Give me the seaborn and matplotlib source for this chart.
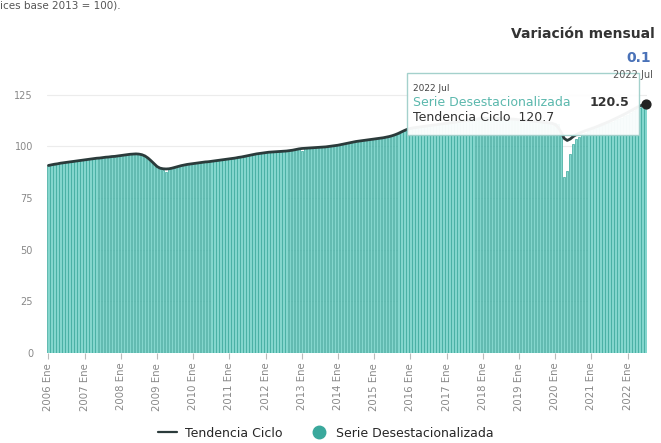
import numpy as np
import pandas as pd
import seaborn as sns
import matplotlib.pyplot as plt
from matplotlib.lines import Line2D
from matplotlib.patches import Rectangle

# Serie desestacionalizada (barras), mensual 2006 Ene - 2022 Jul
serie = [
    90.5, 91.3, 91.2, 91.8, 92.0, 92.0, 92.4, 92.6, 92.5, 93.0, 93.2, 93.2,   # 2006
    93.4, 93.9, 93.7, 94.2, 94.3, 94.3, 94.8, 94.7, 95.0, 95.2, 95.1, 95.5,   # 2007
    95.5, 95.9, 95.8, 96.4, 96.3, 96.6, 96.2, 96.1, 95.2, 94.6, 92.8, 91.5,   # 2008
    90.0, 89.3, 88.6, 87.6, 88.9, 89.6, 89.8, 90.4, 90.6, 91.1, 91.2, 91.6,   # 2009
    91.6, 92.0, 92.1, 92.4, 92.4, 92.7, 92.8, 93.1, 93.1, 93.5, 93.6, 93.9,   # 2010
    94.0, 94.1, 94.5, 94.6, 95.0, 95.1, 95.6, 95.7, 96.2, 96.3, 96.7, 96.8,   # 2011
    97.1, 97.1, 97.4, 97.3, 97.6, 97.5, 97.8, 97.7, 98.1, 98.1, 98.6, 98.7,   # 2012
    97.6, 99.2, 99.1, 99.4, 99.3, 99.6, 99.5, 99.8, 99.7, 100.1, 100.1, 100.5,  # 2013
    100.5, 101.0, 101.1, 101.6, 101.7, 102.2, 102.3, 102.7, 102.7, 103.1, 103.1, 103.5,  # 2014
    103.5, 103.9, 103.9, 104.3, 104.4, 104.9, 105.1, 105.8, 106.2, 107.1, 107.6, 108.4,  # 2015
    108.6, 109.1, 109.1, 109.5, 109.5, 109.9, 109.9, 110.3, 110.3, 110.7, 110.7, 111.1,  # 2016
    111.1, 111.5, 111.5, 111.9, 111.9, 112.3, 112.3, 112.7, 112.7, 113.1, 113.1, 113.3,  # 2017
    113.5, 113.6, 113.6, 113.7, 113.6, 113.7, 113.5, 113.6, 113.4, 113.3, 113.2, 113.0,  # 2018
    112.9, 112.7, 112.6, 112.4, 112.3, 112.1, 112.0, 111.8, 111.7, 111.5, 111.5, 111.3,  # 2019
    111.2, 110.9, 106.0, 85.0, 88.0, 96.5, 101.0, 103.5, 104.5, 105.8, 106.5, 107.4,   # 2020
    108.5, 108.3, 109.6, 110.0, 110.6, 111.2, 111.5, 112.0, 112.6, 113.2, 113.9, 114.6,  # 2021
    115.4, 116.3, 117.0, 117.9, 118.7, 119.8, 120.5,                                     # 2022
]

# Tendencia-ciclo (línea)
tendencia = [
    90.8, 91.1, 91.4, 91.6, 91.9, 92.1, 92.3, 92.5, 92.7, 92.9, 93.1, 93.3,
    93.5, 93.7, 93.9, 94.1, 94.3, 94.4, 94.6, 94.8, 94.9, 95.1, 95.2, 95.4,
    95.6, 95.8, 96.0, 96.2, 96.3, 96.4, 96.3, 96.0, 95.4, 94.4, 93.1, 91.7,
    90.3, 89.5, 89.2, 89.1, 89.2, 89.5, 89.9, 90.3, 90.7, 91.0, 91.3, 91.5,
    91.7, 91.9, 92.1, 92.3, 92.5, 92.6, 92.8, 93.0, 93.2, 93.4, 93.6, 93.8,
    94.0, 94.2, 94.4, 94.7, 94.9, 95.2, 95.5, 95.8, 96.1, 96.4, 96.6, 96.8,
    97.0, 97.2, 97.3, 97.4, 97.5, 97.6, 97.7, 97.8, 98.0, 98.2, 98.5, 98.8,
    99.0, 99.1, 99.2, 99.3, 99.4, 99.5, 99.6, 99.7, 99.8, 100.0, 100.2, 100.4,
    100.6, 100.9, 101.2, 101.5, 101.8, 102.1, 102.4, 102.6, 102.8, 103.0, 103.2, 103.4,
    103.6, 103.8, 104.0, 104.2, 104.5, 104.8, 105.2, 105.7, 106.3, 107.0, 107.7, 108.3,
    108.7, 109.0, 109.2, 109.4, 109.6, 109.8, 110.0, 110.2, 110.4, 110.6, 110.8, 111.0,
    111.2, 111.4, 111.6, 111.8, 112.0, 112.2, 112.4, 112.6, 112.8, 113.0, 113.2, 113.4,
    113.6, 113.7, 113.7, 113.7, 113.7, 113.6, 113.5, 113.5, 113.4, 113.3, 113.2, 113.1,
    112.9, 112.8, 112.6, 112.5, 112.3, 112.2, 112.0, 111.9, 111.7, 111.6, 111.4, 111.2,
    110.6, 109.2, 106.8, 103.9, 102.9, 103.6, 104.8, 105.7, 106.4, 107.0, 107.6, 108.1,
    108.6, 109.1, 109.7, 110.3, 110.9, 111.5, 112.1, 112.8, 113.5, 114.2, 114.9, 115.6,
    116.4, 117.2, 118.0, 118.8, 119.5, 120.1, 120.7,
]

meses = ["Ene", "Feb", "Mar", "Abr", "May", "Jun", "Jul", "Ago", "Sep", "Oct", "Nov", "Dic"]
anios = list(range(2006, 2023))
periodos = [f"{a} {m}" for a in anios for m in meses][:len(serie)]

df = pd.DataFrame({"periodo": periodos, "serie": serie, "tendencia": tendencia})
df["pos"] = range(len(df))

sns.set_style("white")
plt.rcParams["font.family"] = ["DejaVu Sans"]

fig = plt.figure(figsize=(6.61, 4.43), dpi=100)
ax = fig.add_axes([0.071, 0.203, 0.908, 0.639])

sns.barplot(data=df, x="periodo", y="serie", color="#84d6cd", edgecolor="#3aa79b",
            linewidth=0.5, width=0.8, saturation=1, ax=ax, zorder=2)
sns.lineplot(data=df, x="pos", y="tendencia", color="#2b3b3b", linewidth=2.0,
             sort=False, ax=ax, zorder=3)
ax.scatter([df["pos"].iloc[-1]], [df["tendencia"].iloc[-1]], s=40, color="#222",
           zorder=6, clip_on=False)

ax.set_xlim(-0.5, len(df) - 0.5)
ax.set_ylim(0, 137)
ax.set_yticks([0, 25, 50, 75, 100, 125])
ax.yaxis.grid(True, color="#ececec", linewidth=0.8, zorder=0)
ax.set_axisbelow(True)
for s in ax.spines.values():
    s.set_visible(False)

ene = [i for i, p in enumerate(periodos) if p.endswith("Ene")]
ax.set_xticks(ene)
ax.set_xticklabels([periodos[i] for i in ene], rotation=90, fontsize=7.3, color="#888")
ax.tick_params(axis="x", length=4, color="#bbb", pad=3, bottom=True)
ax.tick_params(axis="y", labelsize=7, colors="#888", length=0, pad=10)
ax.set_xlabel("")
ax.set_ylabel("")

# tooltip
ax.add_patch(Rectangle((118.8, 105.6), 76.9, 30.1, facecolor="white", alpha=0.95,
                       edgecolor="#9fcfca", linewidth=1, zorder=5, clip_on=False))
ax.text(120.8, 128.0, "2022 Jul", fontsize=6.5, color="#444", zorder=7, va="center")
ax.text(120.8, 121.1, "Serie Desestacionalizada", fontsize=9, color="#5bb8ad",
        zorder=7, va="center")
ax.text(192.5, 121.1, "120.5", fontsize=9, color="#333", fontweight="bold",
        zorder=7, va="center", ha="right")
ax.text(120.8, 113.9, "Tendencia Ciclo  120.7", fontsize=9, color="#333",
        zorder=7, va="center")

# encabezado
fig.text(0.0, 0.988, "ices base 2013 = 100).", fontsize=7.5, color="#555", va="center")
fig.text(0.99, 0.923, "Variación mensual", fontsize=10, fontweight="bold",
         color="#333", ha="right", va="center")
fig.text(0.985, 0.87, "0.1", fontsize=10, fontweight="bold", color="#4a72b8",
         ha="right", va="center")
fig.text(0.988, 0.83, "2022 Jul", fontsize=7, color="#555", ha="right", va="center")

handles = [Line2D([0], [0], color="#2b3b3b", lw=1.6),
           Line2D([0], [0], marker="o", linestyle="", markersize=9,
                  markerfacecolor="#3aa89c", markeredgecolor="#3aa89c")]
fig.legend(handles, ["Tendencia Ciclo", "Serie Desestacionalizada"], loc="center",
           bbox_to_anchor=(0.493, 0.022), ncol=2, frameon=False, fontsize=9,
           handlelength=1.5, columnspacing=2.2, handletextpad=0.6)

fig.savefig("out.png", dpi=100)
